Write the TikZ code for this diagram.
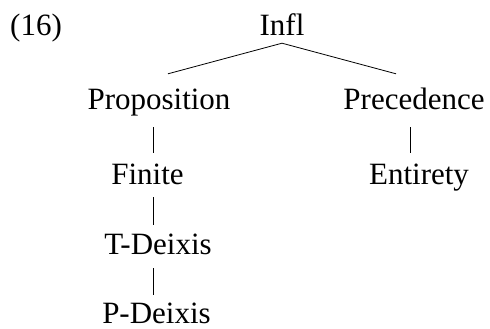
\documentclass[tikz,border=0pt]{standalone}
\usepackage{fontspec}
\setmainfont{Liberation Serif}
\tikzset{
  lab/.style={anchor=base, inner sep=0pt, text height=22pt, text depth=7pt,
    font=\fontsize{31}{37}\selectfont},
  branch/.style={line width=0.8pt}
}
\begin{document}
\begin{tikzpicture}[x=1pt,y=1pt]
\useasboundingbox (0,0) rectangle (490,329);
%\draw[step=10,gray,very thin] (0,0) grid (490,329);
\node[lab,anchor=base west] (num) at (10,293) {(16)};
\node[lab] (infl) at (282,293) {Infl};
\node[lab] (prop) at (159,219) {Proposition};
\node[lab] (prec) at (414,219) {Precedence};
\node[lab] (fin) at (147.5,144) {Finite};
\node[lab] (ent) at (419,144) {Entirety};
\node[lab] (tdx) at (158,74) {T-Deixis};
\node[lab] (pdx) at (156.5,5.5) {P-Deixis};
% branches
\draw[branch] (infl.south) -- ([xshift=9pt,yshift=14pt]prop.north);
\draw[branch] (infl.south) -- ([xshift=-18pt,yshift=14pt]prec.north);
\draw[branch] ([xshift=-6pt,yshift=-10pt]prop.south) -- ([xshift=5.5pt,yshift=10pt]fin.north);
\draw[branch] ([xshift=-4pt,yshift=-10pt]prec.south) -- ([xshift=-9pt,yshift=10pt]ent.north);
\draw[branch] ([xshift=5.5pt,yshift=-5pt]fin.south) -- ([xshift=-5pt,yshift=8pt]tdx.north);
\draw[branch] ([xshift=-5pt,yshift=-6pt]tdx.south) -- ([xshift=-3.5pt,yshift=6.5pt]pdx.north);
\end{tikzpicture}
\end{document}
